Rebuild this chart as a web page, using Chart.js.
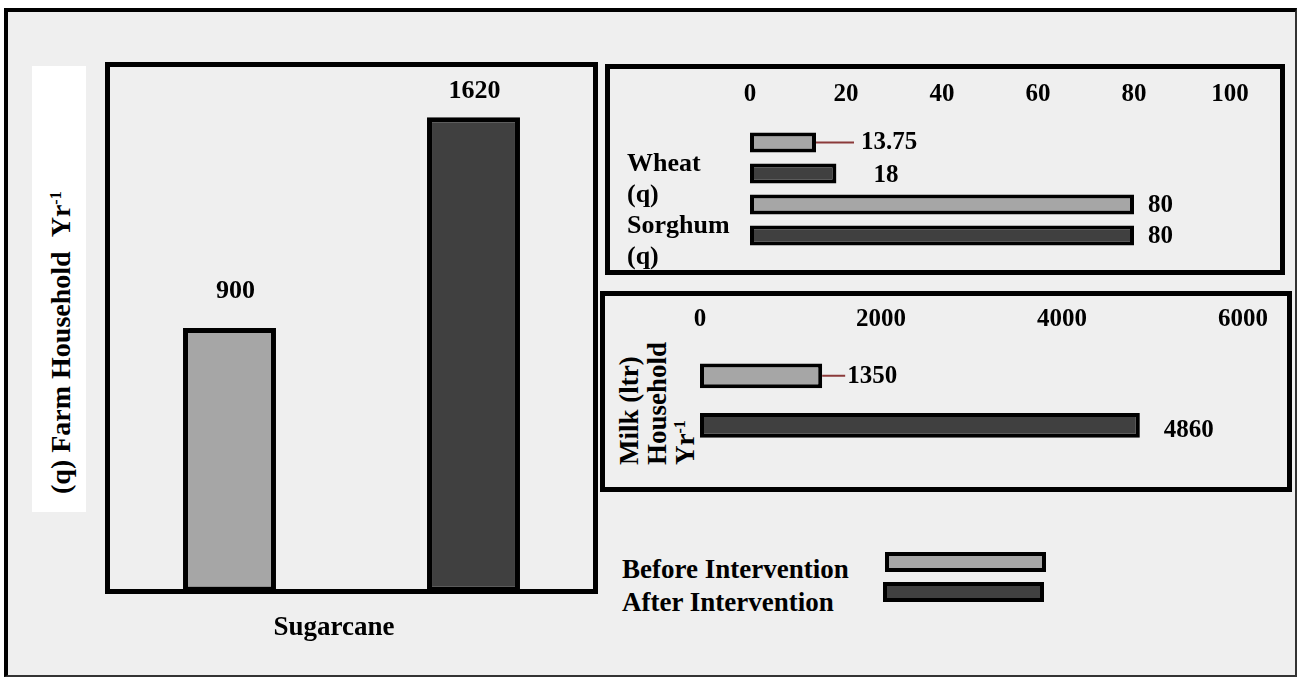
<!DOCTYPE html>
<html><head><meta charset="utf-8">
<script src="https://cdn.jsdelivr.net/npm/chart.js@4/dist/chart.umd.min.js"></script>
<style>
html,body{margin:0;padding:0;background:#fff;}
body{width:1297px;height:677px;position:relative;overflow:hidden;font-family:'Liberation Serif','Times New Roman',serif;font-weight:bold;color:#000;}
.abs{position:absolute;}
#frame{left:4px;top:8px;width:1293px;height:669px;box-sizing:border-box;border-left:4px solid #000;border-top:4px solid #000;border-right:2px solid #333;border-bottom:2px solid #333;background:#efefef;}
.box{position:absolute;box-sizing:border-box;border:5px solid #000;}
canvas{position:absolute;}
.rot{position:absolute;transform:rotate(-90deg);transform-origin:0 0;white-space:nowrap;font-size:27px;}
.rot sup{font-size:16px;vertical-align:9px;line-height:0;}
.legtxt{position:absolute;font-size:27px;line-height:30px;white-space:nowrap;}
.legsw{position:absolute;box-sizing:border-box;border:4px solid #000;width:161px;height:20px;}
</style></head><body>
<div id="frame" class="abs"></div>
<div class="box" style="left:105px;top:62px;width:493px;height:532px;"></div>
<div class="box" style="left:605px;top:64px;width:680px;height:211px;"></div>
<div class="box" style="left:600px;top:291px;width:692px;height:201px;"></div>
<div class="abs" style="left:32px;top:66px;width:54px;height:446px;background:#fff;"></div>
<div id="titleA" class="rot" style="left:46px;top:494px;line-height:30px;font-size:28px;"></div>
<div id="titleC" class="rot" style="left:615px;top:465px;line-height:28px;"></div>
<div id="legend"></div>
<canvas id="cA" width="620" height="677" style="left:0;top:0;"></canvas>
<canvas id="cB" width="697" height="230" style="left:600px;top:55px;"></canvas>
<canvas id="cC" width="697" height="220" style="left:600px;top:280px;"></canvas>
<script>
// ---- data ----
const seriesNames = ['Before Intervention', 'After Intervention'];
const sugarcaneCategories = ['Sugarcane'];
const sugarcaneBefore = [900];
const sugarcaneAfter = [1620];
const sugarcaneTitle = ['(q) Farm Household\u00a0\u00a0Yr', '-1'];
const grainCategories = [['Wheat', '(q)'], ['Sorghum', '(q)']];
const grainBefore = [13.75, 80];
const grainAfter = [18, 80];
const grainTicks = [0, 20, 40, 60, 80, 100];
const milkCategories = ['Milk'];
const milkBefore = [1350];
const milkAfter = [4860];
const milkTicks = [0, 2000, 4000, 6000];
const milkTitle = ['Milk (ltr)', 'Household', 'Yr', '-1'];

// ---- styles ----
const GRAY = '#a6a6a6', DARK = '#404040';
const FONT = "'Liberation Serif','Times New Roman',serif";
Chart.defaults.font.family = FONT;
Chart.defaults.color = '#000';

// titles & legend (text)
document.getElementById('titleA').innerHTML = sugarcaneTitle[0] + '<sup>' + sugarcaneTitle[1] + '</sup>';
document.getElementById('titleC').innerHTML = milkTitle[0] + '<br>' + milkTitle[1] + '<br>' + milkTitle[2] + '<sup>' + milkTitle[3] + '</sup>';
const legendEl = document.getElementById('legend');
const legPos = [{tx:622, ty:554, sx:885, sy:552, c:GRAY}, {tx:622, ty:587, sx:883, sy:582, c:DARK}];
seriesNames.forEach((n, i) => {
  const p = legPos[i];
  const t = document.createElement('div'); t.className = 'legtxt'; t.style.left = p.tx + 'px'; t.style.top = p.ty + 'px'; t.textContent = n; legendEl.appendChild(t);
  const s = document.createElement('div'); s.className = 'legsw'; s.style.left = p.sx + 'px'; s.style.top = p.sy + 'px'; s.style.background = p.c; legendEl.appendChild(s);
});

const valueLabels = {
  id: 'valueLabels',
  afterDatasetsDraw(chart, args, opts) {
    const ctx = chart.ctx;
    ctx.save();
    ctx.font = 'bold ' + opts.size + 'px ' + FONT;
    ctx.fillStyle = '#000';
    ctx.textBaseline = 'middle';
    chart.data.datasets.forEach((ds, di) => {
      const meta = chart.getDatasetMeta(di);
      meta.data.forEach((el, i) => {
        const o = (opts.offsets[di] && opts.offsets[di][i]) || {dx: 0, dy: 0};
        const txt = String(ds.data[i]);
        if (opts.horizontal) {
          if (o.leader) {
            ctx.strokeStyle = '#8b3a3a'; ctx.lineWidth = 2;
            ctx.beginPath(); ctx.moveTo(el.x, el.y); ctx.lineTo(el.x + o.leader, el.y); ctx.stroke();
          }
          ctx.textAlign = 'left';
          ctx.fillText(txt, el.x + o.dx, el.y + o.dy);
        } else {
          ctx.textAlign = 'center';
          ctx.fillText(txt, el.x + o.dx, el.y + o.dy);
        }
      });
    });
    ctx.restore();
  }
};

const common = {
  responsive: false, animation: false, devicePixelRatio: 1,
  events: []
};
const plainTick = (v) => String(v);

function ds(label, data, color, bw, bp) {
  return {label, data, backgroundColor: color, borderColor: '#000', borderWidth: bw,
    borderSkipped: false, categoryPercentage: 1, barPercentage: bp};
}

// ---- Sugarcane chart ----
new Chart(document.getElementById('cA'), {
  type: 'bar',
  data: {labels: sugarcaneCategories, datasets: [
    ds(seriesNames[0], sugarcaneBefore, GRAY, 5, 0.381),
    ds(seriesNames[1], sugarcaneAfter, DARK, 5, 0.381)
  ]},
  options: Object.assign({}, common, {
    layout: {padding: {left: 107.5, right: 24.5, top: 64.5, bottom: 25.5}},
    scales: {
      x: {grid: {display: false, drawTicks: false}, border: {display: false},
          ticks: {color: '#000', font: {size: 27, weight: 'bold'}, padding: 20, labelOffset: -17.5},
          afterFit(s) { s.height = 60; }},
      y: {display: false, min: 0, max: 1800}
    },
    plugins: {legend: {display: false}, tooltip: {enabled: false},
      valueLabels: {size: 26, horizontal: false, offsets: [[{dx: 6, dy: -37}], [{dx: 1, dy: -26}]]}}
  }),
  plugins: [valueLabels]
});

// ---- Wheat / Sorghum chart ----
new Chart(document.getElementById('cB'), {
  type: 'bar',
  data: {labels: grainCategories, datasets: [
    ds(seriesNames[0], grainBefore, GRAY, 4, 0.645),
    ds(seriesNames[1], grainAfter, DARK, 4, 0.645)
  ]},
  options: Object.assign({}, common, {
    indexAxis: 'y',
    layout: {padding: {left: 27, right: 67, top: 22, bottom: 34}},
    scales: {
      x: {position: 'top', min: grainTicks[0], max: grainTicks[grainTicks.length - 1],
          grid: {display: false, drawTicks: false}, border: {display: false},
          ticks: {stepSize: grainTicks[1] - grainTicks[0], color: '#000', font: {size: 25, weight: 'bold'}, padding: 17, callback: plainTick},
          afterFit(s) { s.height = 50; }},
      y: {grid: {display: false, drawTicks: false}, border: {display: false},
          ticks: {color: '#000', font: {size: 26, weight: 'bold', lineHeight: 1.19}, crossAlign: 'far',
                  labelOffset: 22, autoSkip: false, padding: 0},
          afterFit(s) { s.width = 123; }}
    },
    plugins: {legend: {display: false}, tooltip: {enabled: false},
      valueLabels: {size: 25, horizontal: true, offsets: [
        [{dx: 45, dy: 0, leader: 38}, {dx: 14, dy: 1.5}],
        [{dx: 37, dy: 2}, {dx: 14, dy: 1.5}]
      ]}}
  }),
  plugins: [valueLabels]
});

// ---- Milk chart ----
new Chart(document.getElementById('cC'), {
  type: 'bar',
  data: {labels: milkCategories, datasets: [
    ds(seriesNames[0], milkBefore, GRAY, 4, 0.5),
    ds(seriesNames[1], milkAfter, DARK, 4, 0.5)
  ]},
  options: Object.assign({}, common, {
    indexAxis: 'y',
    layout: {padding: {left: 100, right: 54, top: 21, bottom: 50}},
    scales: {
      x: {position: 'top', min: milkTicks[0], max: milkTicks[milkTicks.length - 1],
          grid: {display: false, drawTicks: false}, border: {display: false},
          ticks: {stepSize: milkTicks[1] - milkTicks[0], color: '#000', font: {size: 25, weight: 'bold'}, padding: 16, callback: plainTick},
          afterFit(s) { s.height = 50; }},
      y: {display: false}
    },
    plugins: {legend: {display: false}, tooltip: {enabled: false},
      valueLabels: {size: 25, horizontal: true, offsets: [
        [{dx: 25, dy: 1, leader: 23}],
        [{dx: 24, dy: 5}]
      ]}}
  }),
  plugins: [valueLabels]
});
</script>
</body></html>
